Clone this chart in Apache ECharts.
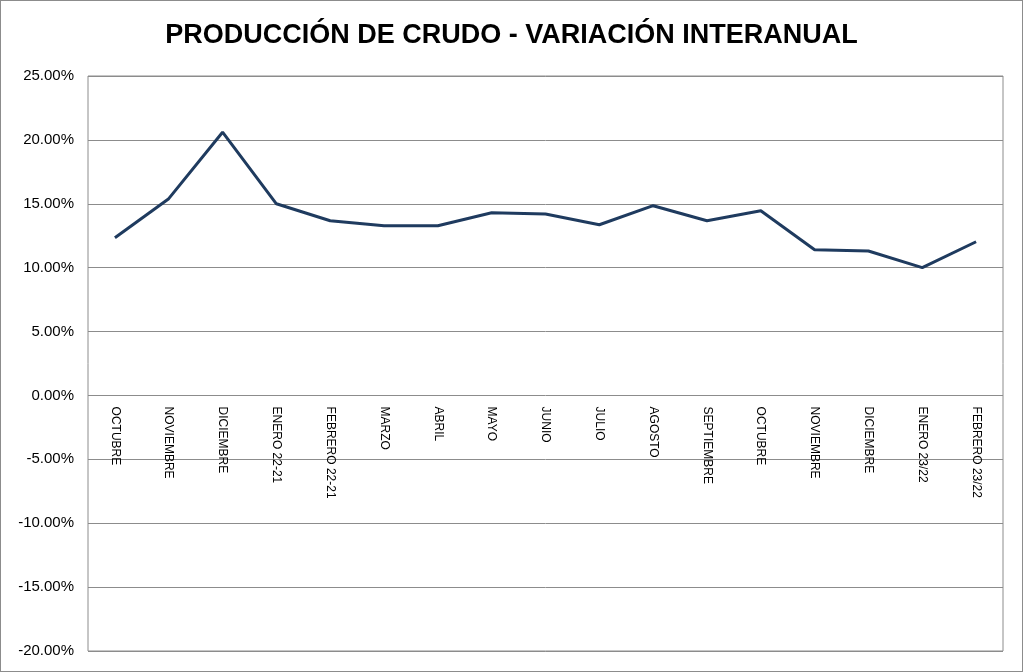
<!DOCTYPE html>
<html><head><meta charset="utf-8">
<script src="https://cdn.jsdelivr.net/npm/echarts@6/dist/echarts.min.js"></script>
<style>html,body{margin:0;padding:0;background:#fff}#c{width:1023px;height:672px;box-sizing:border-box;border:1px solid #8c8c8c}</style>
</head><body><div id="c"></div>
<script>
const categories = ['OCTUBRE','NOVIEMBRE','DICIEMBRE','ENERO 22-21','FEBRERO 22-21','MARZO','ABRIL','MAYO','JUNIO','JULIO','AGOSTO','SEPTIEMBRE','OCTUBRE','NOVIEMBRE','DICIEMBRE','ENERO 23/22','FEBRERO 23/22'];
const variacion = [12.34, 15.4, 20.6, 15.0, 13.67, 13.28, 13.28, 14.3, 14.2, 13.36, 14.85, 13.67, 14.45, 11.4, 11.3, 10.0, 12.03];
const yMin = -20, yMax = 25, yStep = 5;
const chart = echarts.init(document.getElementById('c'));
// layout of main plot
const gTop = 75, gBottom = 20, H = 672 - gTop - gBottom;
const zeroOffset = H * yMax / (yMax - yMin); // height from top to zero line
chart.setOption({
  animation:false,
  title:{text:'PRODUCCIÓN DE CRUDO - VARIACIÓN INTERANUAL',left:'center',top:16,
    textStyle:{fontFamily:'Liberation Sans',fontWeight:'bold',fontSize:27,color:'#000'}},
  grid:[
    {left:87,right:19,top:gTop,bottom:gBottom,show:true,borderColor:'#8c8c8c',borderWidth:1,
     containLabel:false,outerBoundsMode:'none'},
    {left:87,right:19,top:gTop,height:zeroOffset,show:false,containLabel:false,outerBoundsMode:'none'}
  ],
  xAxis:[
    {gridIndex:0,type:'category',data:categories,boundaryGap:true,
     axisLine:{show:false},axisTick:{show:false},axisLabel:{show:false}},
    {gridIndex:1,type:'category',data:categories,boundaryGap:true,position:'bottom',
     axisLine:{show:false},axisTick:{show:false},
     axisLabel:{rotate:-90,interval:0,margin:10,fontFamily:'Liberation Sans',fontSize:12,color:'#000',verticalAlign:'middle'}}
  ],
  yAxis:[
    {gridIndex:0,type:'value',min:yMin,max:yMax,interval:yStep,
     axisLine:{show:false},axisTick:{show:false},
     splitLine:{lineStyle:{color:'#8c8c8c'}},
     axisLabel:{margin:14,fontFamily:'Liberation Sans',fontSize:15,color:'#000',formatter:v=>v.toFixed(2)+'%'}},
    {gridIndex:1,type:'value',show:false,splitLine:{show:false}}
  ],
  series:[{type:'line',xAxisIndex:0,yAxisIndex:0,data:variacion,symbol:'none',lineStyle:{color:'#1F3B5F',width:3}}]
});
</script></body></html>
